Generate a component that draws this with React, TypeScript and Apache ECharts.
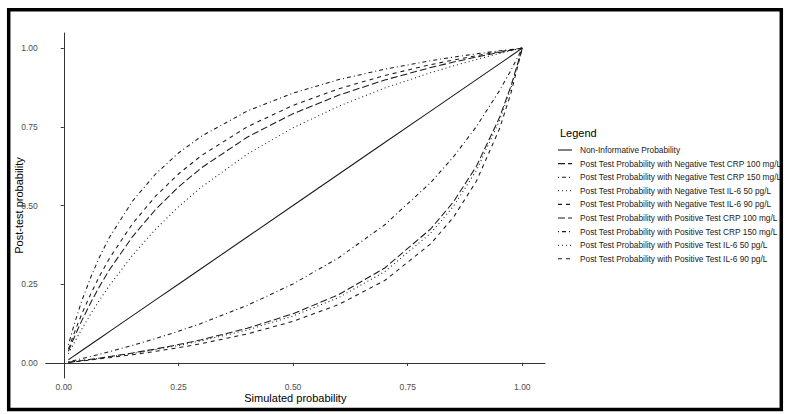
import React, { useEffect, useRef } from "react";
import * as echarts from "echarts";

const xs = [0.01, 0.02, 0.03, 0.04, 0.06, 0.08, 0.1, 0.15, 0.2, 0.25, 0.3, 0.4, 0.5, 0.6, 0.7, 0.8, 0.85, 0.9, 0.95, 0.975, 1.0];

const nonInformative = [0.01, 0.02, 0.03, 0.04, 0.06, 0.08, 0.1, 0.15, 0.2, 0.25, 0.3, 0.4, 0.5, 0.6, 0.7, 0.8, 0.85, 0.9, 0.95, 0.975, 1.0];
const negCrp100 = [0.037, 0.072, 0.1052, 0.1367, 0.1952, 0.2484, 0.2969, 0.4014, 0.4872, 0.5588, 0.6196, 0.717, 0.7917, 0.8507, 0.8986, 0.9383, 0.9556, 0.9716, 0.9863, 0.9933, 1];
const negCrp150 = [0.0571, 0.1091, 0.1565, 0.2, 0.2769, 0.3429, 0.4, 0.5143, 0.6, 0.6667, 0.72, 0.8, 0.8571, 0.9, 0.9333, 0.96, 0.9714, 0.9818, 0.9913, 0.9957, 1];
const negIl50 = [0.0289, 0.0568, 0.0836, 0.1095, 0.1585, 0.2042, 0.2469, 0.3424, 0.4245, 0.4958, 0.5584, 0.6629, 0.7468, 0.8157, 0.8732, 0.9219, 0.9436, 0.9637, 0.9825, 0.9914, 1];
const negIl90 = [0.0435, 0.0841, 0.1222, 0.1579, 0.2231, 0.2813, 0.3333, 0.4426, 0.5294, 0.6, 0.6585, 0.75, 0.8182, 0.871, 0.913, 0.9474, 0.9623, 0.9759, 0.9884, 0.9943, 1];
const posCrp100 = [0.0019, 0.0038, 0.0057, 0.0076, 0.0117, 0.0158, 0.0201, 0.0316, 0.0442, 0.0581, 0.0735, 0.1098, 0.1561, 0.2172, 0.3015, 0.4253, 0.5118, 0.6248, 0.7785, 0.8783, 1];
const posCrp150 = [0.0034, 0.0068, 0.0103, 0.0138, 0.0209, 0.0283, 0.0359, 0.0558, 0.0773, 0.1005, 0.1255, 0.1826, 0.2509, 0.3344, 0.4387, 0.5726, 0.655, 0.7509, 0.8642, 0.9289, 1];
const posIl50 = [0.0018, 0.0036, 0.0054, 0.0072, 0.011, 0.015, 0.0191, 0.03, 0.0419, 0.0551, 0.0698, 0.1045, 0.1489, 0.2079, 0.2899, 0.4118, 0.4979, 0.6117, 0.7688, 0.8722, 1];
const posIl90 = [0.0015, 0.0031, 0.0047, 0.0063, 0.0096, 0.013, 0.0166, 0.0261, 0.0366, 0.0482, 0.0612, 0.092, 0.1319, 0.1857, 0.2618, 0.3781, 0.4628, 0.5777, 0.7428, 0.8557, 1];

const tickValues = [0, 0.25, 0.5, 0.75, 1];

const SOLID: number[] | null = null;
const LONGDASH = [7, 3];
const DOTDASH = [1, 3, 4, 3];
const DOTTED = [1, 3];
const DASHED = [4, 4];

const seriesDefs: { name: string; ys: number[]; dash: number[] | null }[] = [
  { name: "Non-Informative Probability", ys: nonInformative, dash: SOLID },
  { name: "Post Test Probability with Negative Test CRP 100 mg/L", ys: negCrp100, dash: LONGDASH },
  { name: "Post Test Probability with Negative Test CRP 150 mg/L", ys: negCrp150, dash: DOTDASH },
  { name: "Post Test Probability with Negative Test IL-6 50 pg/L", ys: negIl50, dash: DOTTED },
  { name: "Post Test Probability with Negative Test IL-6 90 pg/L", ys: negIl90, dash: DASHED },
  { name: "Post Test Probability with Positive Test CRP 100 mg/L", ys: posCrp100, dash: LONGDASH },
  { name: "Post Test Probability with Positive Test CRP 150 mg/L", ys: posCrp150, dash: DOTDASH },
  { name: "Post Test Probability with Positive Test IL-6 50 pg/L", ys: posIl50, dash: DOTTED },
  { name: "Post Test Probability with Positive Test IL-6 90 pg/L", ys: posIl90, dash: DASHED },
];

const FONT = "Liberation Sans, Arial, sans-serif";
const LINE_COLOR = "#1a1a1a";

export default function App() {
  const ref = useRef<HTMLDivElement>(null);
  useEffect(() => {
    if (!ref.current) return;
    const chart = echarts.init(ref.current, null, { renderer: "svg" });
    const axisCommon = {
      type: "value" as const,
      nameLocation: "middle" as const,
      nameMoveOverlap: false,
      nameTextStyle: { fontFamily: FONT, fontSize: 11, color: "#000" },
      splitLine: { show: false },
      axisLine: { show: true, lineStyle: { color: "#333", width: 1 } },
      axisTick: { show: true, length: 3, lineStyle: { color: "#333", width: 1 }, customValues: tickValues },
      axisLabel: {
        fontFamily: FONT,
        fontSize: 8.5,
        color: "#4d4d4d",
        customValues: tickValues,
        formatter: (v: number) => v.toFixed(2),
      },
    };

    const legendGraphics: any[] = [];
    seriesDefs.forEach((s, i) => {
      const y = 150 + i * 13.6;
      legendGraphics.push({
        type: "line",
        shape: { x1: 558, y1: y, x2: 572, y2: y },
        style: { stroke: LINE_COLOR, lineWidth: 1.1, lineDash: s.dash || undefined },
        silent: true,
      });
      legendGraphics.push({
        type: "text",
        x: 580,
        y: y,
        style: { text: s.name, fontFamily: FONT, fontSize: 8.3, fill: "#1a1a1a", verticalAlign: "middle", align: "left" },
        silent: true,
      });
    });

    chart.setOption({
      animation: false,
      backgroundColor: "#fff",
      grid: { left: 45.7, right: 244, top: 33, bottom: 36, containLabel: false },
      xAxis: {
        ...axisCommon,
        min: -0.0395,
        max: 1.0495,
        name: "Simulated probability",
        nameGap: 14,
        axisLabel: { ...axisCommon.axisLabel, margin: 4 },
      },
      yAxis: {
        ...axisCommon,
        min: -0.048,
        max: 1.048,
        name: "Post-test probability",
        nameGap: 21,
        axisLabel: { ...axisCommon.axisLabel, margin: 8 },
      },
      graphic: [
        {
          type: "text",
          x: 560,
          y: 133,
          style: { text: "Legend", fontFamily: FONT, fontSize: 11, fill: "#000", verticalAlign: "middle" },
          silent: true,
        },
        ...legendGraphics,
        {
          type: "rect",
          shape: { x: 8.7, y: 9.8, width: 772.6, height: 399.7 },
          style: { fill: "none", stroke: "#000", lineWidth: 3.5 },
          silent: true,
        },
      ],
      series: seriesDefs.map((s) => ({
        name: s.name,
        type: "line",
        data: xs.map((x, i) => [x, s.ys[i]]),
        showSymbol: false,
        symbol: "none",
        smooth: false,
        lineStyle: { color: LINE_COLOR, width: 1.05, type: s.dash ? s.dash : "solid" },
        itemStyle: { color: LINE_COLOR },
      })),
    });
    return () => chart.dispose();
  }, []);
  return (
    <div style={{ position: "fixed", left: 0, top: 0, width: 789, height: 414, background: "#fff" }}>
      <div ref={ref} style={{ width: 789, height: 414 }} />
    </div>
  );
}
